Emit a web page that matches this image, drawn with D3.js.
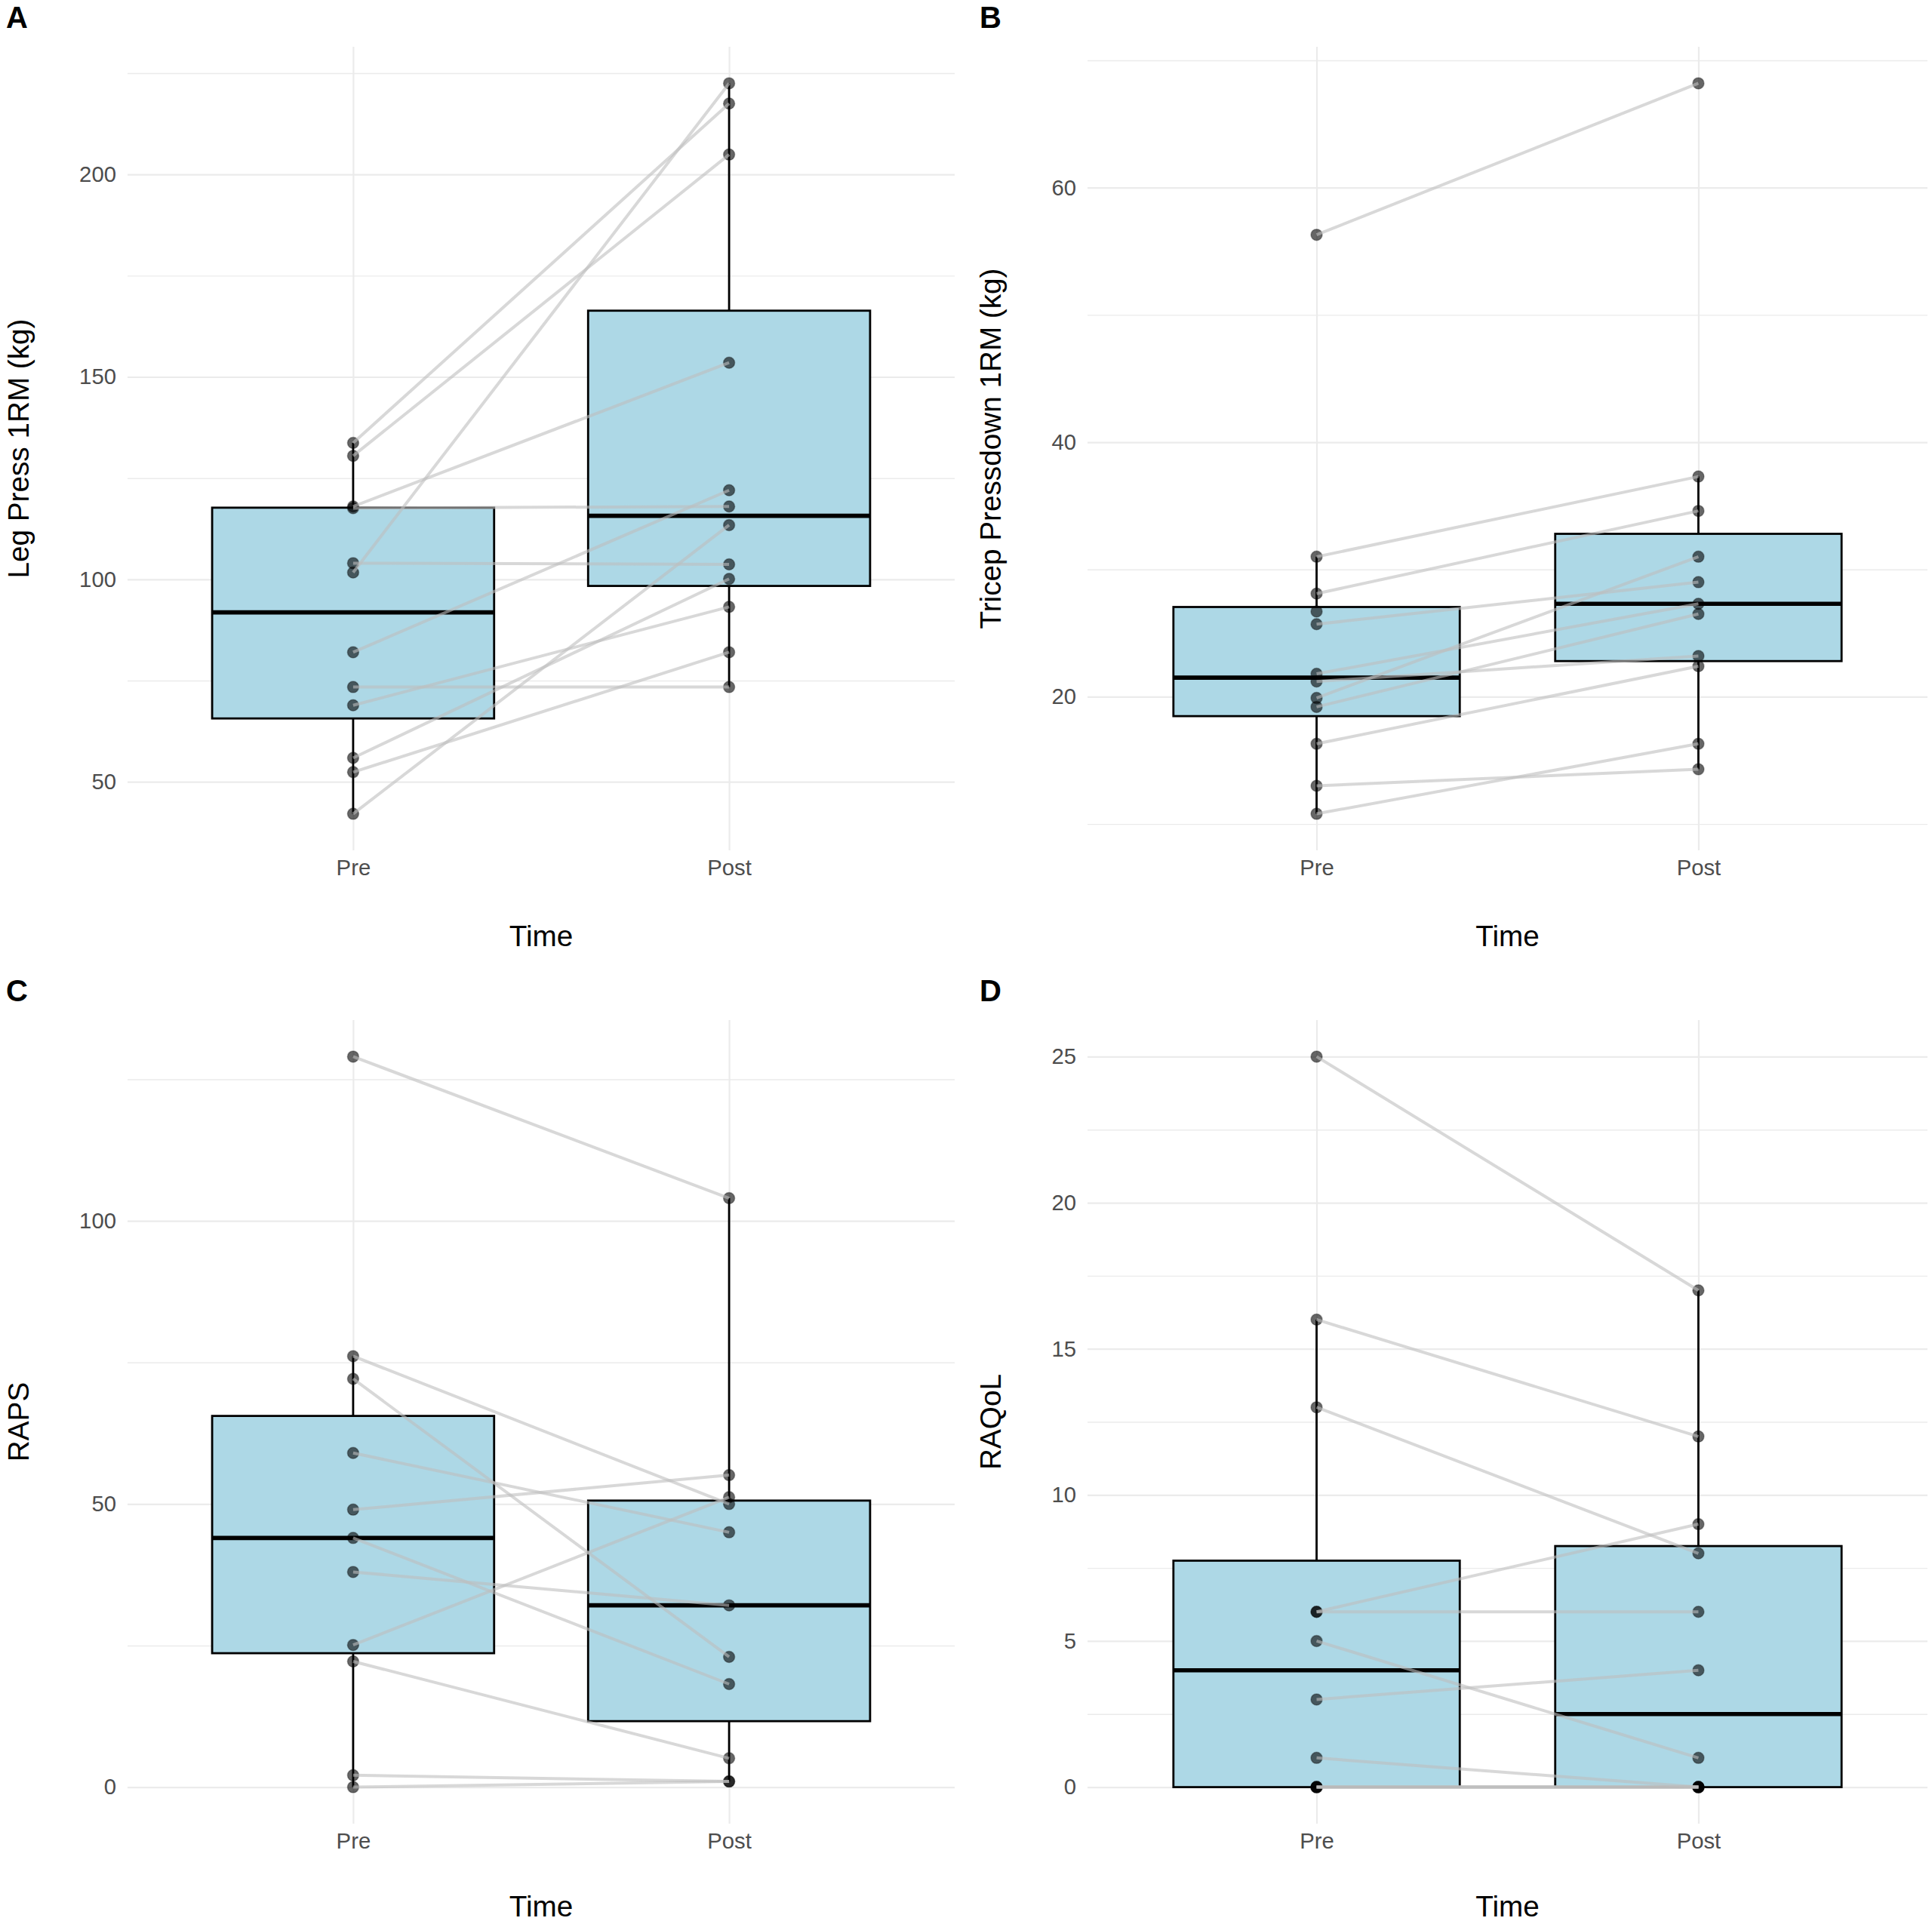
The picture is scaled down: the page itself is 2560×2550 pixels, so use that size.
<!DOCTYPE html>
<html>
<head>
<meta charset="utf-8">
<script src="https://cdn.jsdelivr.net/npm/d3@7"></script>
<style>
  body { margin: 0; background: white; }
  text { font-family: "Liberation Sans", Arial, sans-serif; }
</style>
</head>
<body>
<div id="container"></div>
<script>
/* CONSTANTS AND GLOBALS */
const width = 2560;
const height = 2550;
const box_color = '#ADD8E6';
const grid_color = '#EBEBEB';
const tick_font = 29.3;
const title_font = 38.7;

/* DATA */
const times = ['Pre', 'Post'];

// A - one entry per participant, same index = same person
const legPressPre  = [133.7, 130.5, 118.0, 117.6, 104.0, 101.7, 82.0, 73.4, 68.9, 55.9, 52.4, 42.1];
const legPressPost = [217.5, 204.9, 153.5, 118.0, 103.7, 222.5, 122.0, 73.4, 93.2, 100.1, 82.0, 113.4];
const legPressTicks = [50, 100, 150, 200];

// B - one participant has no post value
const tricepPre  = [56.3, 31.0, 28.1, 26.7, 25.7, 21.8, 21.2, 19.9, 19.2, 16.3, 13.0, 10.8];
const tricepPost = [68.2, 37.3, 34.6, null, 29.0, 27.3, 23.2, 31.0, 26.5, 22.4, 14.3, 16.3];
const tricepTicks = [20, 40, 60];

// C
const rapsPre  = [129, 76.1, 72.1, 59, 49, 44, 38, 25.1, 22.2, 2.1, 0];
const rapsPost = [104, 50.0, 23.0, 45, 55.1, 18.2, 32.1, 51.2, 5.1, 1, 1];
const rapsTicks = [0, 50, 100];

// D
const raqolPre  = [25, 16, 13, 6, 6, 5, 3, 1, 0, 0, 0, 0];
const raqolPost = [17, 12, 8, 9, 6, 1, 4, 0, 0, 0, 0, 0];
const raqolTicks = [0, 5, 10, 15, 20, 25];

/* PANEL LAYOUT */
const panels = [
  { tag: 'A', title: 'Leg Press 1RM (kg)', pre: legPressPre, post: legPressPost, ticks: legPressTicks,
    left: 169, right: 1265, top: 62, bottom: 1127, titleX: 38, tagX: 8, tagY: 37, timeY: 1254 },
  { tag: 'B', title: 'Tricep Pressdown 1RM (kg)', pre: tricepPre, post: tricepPost, ticks: tricepTicks,
    left: 1441, right: 2554, top: 62, bottom: 1127, titleX: 1326, tagX: 1298, tagY: 37, timeY: 1254 },
  { tag: 'C', title: 'RAPS', pre: rapsPre, post: rapsPost, ticks: rapsTicks,
    left: 169, right: 1265, top: 1352, bottom: 2417, titleX: 38, tagX: 8, tagY: 1327, timeY: 2540 },
  { tag: 'D', title: 'RAQoL', pre: raqolPre, post: raqolPost, ticks: raqolTicks,
    left: 1441, right: 2554, top: 1352, bottom: 2417, titleX: 1326, tagX: 1298, tagY: 1327, timeY: 2540 }
];

/* HTML ELEMENTS */
const svg = d3.select('#container')
  .append('svg')
  .attr('width', width)
  .attr('height', height)
  .style('background-color', 'white');

panels.forEach(p => {
  const all = p.pre.concat(p.post).filter(d => d != null);
  const [lo, hi] = d3.extent(all);
  const pad = (hi - lo) * 0.05;   // ggplot style expansion

  const yScale = d3.scaleLinear()
    .domain([lo - pad, hi + pad])
    .range([p.bottom, p.top]);

  const xScale = d3.scalePoint()
    .domain(times)
    .range([p.left, p.right])
    .padding(0.6);

  const boxWidth = xScale.step() * 0.75;
  const plotW = p.right - p.left;
  const plotH = p.bottom - p.top;

  const g = svg.append('g');

  // minor gridlines halfway between the major ticks
  const step = p.ticks[1] - p.ticks[0];
  const [d0, d1] = yScale.domain();
  const minor = d3.range(p.ticks[0] - step / 2, p.ticks[p.ticks.length - 1] + step, step)
    .filter(v => v >= d0 && v <= d1);

  g.append('g')
    .attr('transform', `translate(${p.left},0)`)
    .call(d3.axisLeft(yScale).tickValues(minor).tickFormat('').tickSize(-plotW))
    .call(a => a.select('.domain').remove())
    .call(a => a.selectAll('line').attr('stroke', grid_color).attr('stroke-width', 1.4));

  g.append('g')
    .attr('transform', `translate(${p.left},0)`)
    .call(d3.axisLeft(yScale).tickValues(p.ticks).tickSize(-plotW).tickPadding(15))
    .call(a => a.select('.domain').remove())
    .call(a => a.selectAll('line').attr('stroke', grid_color).attr('stroke-width', 2.2))
    .call(a => a.selectAll('text')
      .attr('fill', '#4D4D4D')
      .attr('font-size', tick_font)
      .attr('font-family', '"Liberation Sans", Arial, sans-serif'));

  g.append('g')
    .attr('transform', `translate(0,${p.bottom})`)
    .call(d3.axisBottom(xScale).tickSize(-plotH).tickPadding(12))
    .call(a => a.select('.domain').remove())
    .call(a => a.selectAll('line').attr('stroke', grid_color).attr('stroke-width', 2.2))
    .call(a => a.selectAll('text')
      .attr('fill', '#4D4D4D')
      .attr('font-size', tick_font)
      .attr('font-family', '"Liberation Sans", Arial, sans-serif'));

  /* box stats (R type 7 quantiles, 1.5 IQR whiskers) */
  const stats = times.map((t, k) => {
    const vals = (k === 0 ? p.pre : p.post).filter(d => d != null).sort(d3.ascending);
    const q1 = d3.quantile(vals, 0.25);
    const med = d3.quantile(vals, 0.5);
    const q3 = d3.quantile(vals, 0.75);
    const iqr = q3 - q1;
    const inside = vals.filter(v => v >= q1 - 1.5 * iqr && v <= q3 + 1.5 * iqr);
    return { time: t, vals, q1, med, q3, lo: d3.min(inside), hi: d3.max(inside) };
  });

  const boxes = g.append('g')
    .selectAll('g')
    .data(stats)
    .join('g');

  boxes.append('line')
    .attr('x1', d => xScale(d.time))
    .attr('x2', d => xScale(d.time))
    .attr('y1', d => yScale(d.hi))
    .attr('y2', d => yScale(d.lo))
    .attr('stroke', 'black')
    .attr('stroke-width', 2.8);

  boxes.append('rect')
    .attr('x', d => xScale(d.time) - boxWidth / 2)
    .attr('width', boxWidth)
    .attr('y', d => yScale(d.q3))
    .attr('height', d => yScale(d.q1) - yScale(d.q3))
    .attr('fill', box_color)
    .attr('stroke', 'black')
    .attr('stroke-width', 2.8);

  boxes.append('line')
    .attr('x1', d => xScale(d.time) - boxWidth / 2)
    .attr('x2', d => xScale(d.time) + boxWidth / 2)
    .attr('y1', d => yScale(d.med))
    .attr('y2', d => yScale(d.med))
    .attr('stroke', 'black')
    .attr('stroke-width', 5.6);

  /* points */
  const points = [];
  stats.forEach(s => s.vals.forEach(v => points.push({ time: s.time, value: v })));

  g.append('g')
    .selectAll('circle')
    .data(points)
    .join('circle')
    .attr('cx', d => xScale(d.time))
    .attr('cy', d => yScale(d.value))
    .attr('r', 7.5)
    .attr('fill', 'black')
    .attr('fill-opacity', 0.6)
    .attr('stroke', 'black')
    .attr('stroke-opacity', 0.3)
    .attr('stroke-width', 1.5);

  /* paired lines, drawn over the points */
  const pairs = p.pre
    .map((d, i) => ({ pre: d, post: p.post[i] }))
    .filter(d => d.pre != null && d.post != null);

  g.append('g')
    .selectAll('line')
    .data(pairs)
    .join('line')
    .attr('x1', xScale('Pre'))
    .attr('x2', xScale('Post'))
    .attr('y1', d => yScale(d.pre))
    .attr('y2', d => yScale(d.post))
    .attr('stroke', '#BEBEBE')
    .attr('stroke-opacity', 0.6)
    .attr('stroke-width', 4);

  /* titles */
  g.append('text')
    .attr('x', (p.left + p.right) / 2)
    .attr('y', p.timeY)
    .attr('text-anchor', 'middle')
    .attr('font-size', title_font)
    .attr('fill', 'black')
    .text('Time');

  g.append('text')
    .attr('transform', `translate(${p.titleX},${(p.top + p.bottom) / 2}) rotate(-90)`)
    .attr('text-anchor', 'middle')
    .attr('font-size', title_font)
    .attr('fill', 'black')
    .text(p.title);

  g.append('text')
    .attr('x', p.tagX)
    .attr('y', p.tagY)
    .attr('font-size', 40)
    .attr('font-weight', 'bold')
    .attr('fill', 'black')
    .text(p.tag);
});
</script>
</body>
</html>
